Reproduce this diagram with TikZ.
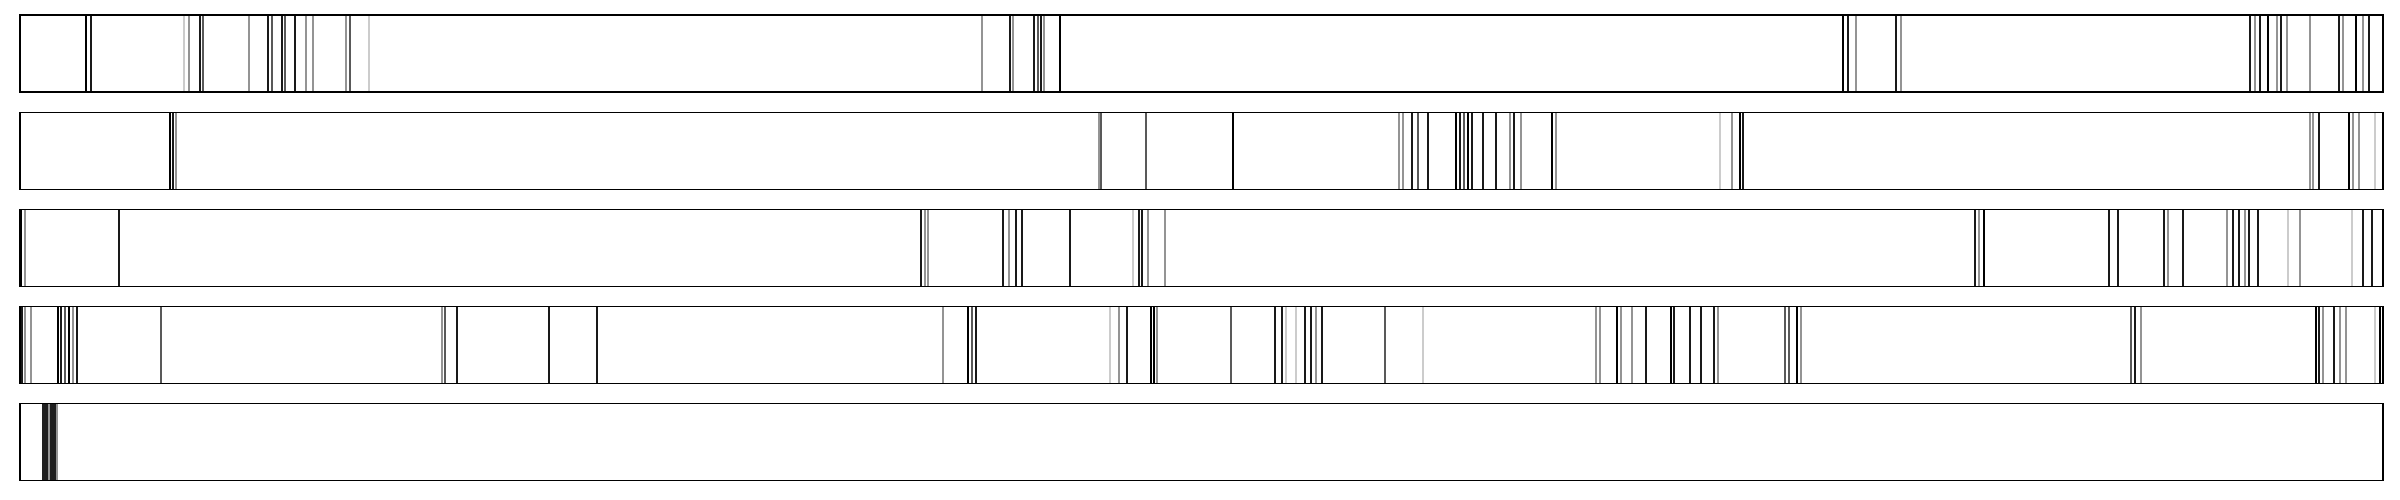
\documentclass[tikz,border=0pt]{standalone}
\begin{document}
\begin{tikzpicture}[x=1pt,y=-1pt,
  frame/.style={black,line width=1.5pt},
  bK/.style={black,line width=2.6pt},
  bk/.style={black!90,line width=1.3pt},
  bd/.style={black!65,line width=1.2pt},
  bg/.style={black!42,line width=1.1pt},
  bl/.style={black!20,line width=1.1pt},
  bW/.style={black!88,line width=6pt}]
\useasboundingbox (0,0) rectangle (2400,500);
\fill[white] (0,0) rectangle (2400,500);
\newcommand{\bcrow}[2]{%
  \foreach \x/\s in {#2} {\draw[\s] (\x,#1) -- (\x,{#1+77});}
  \draw[frame] (20,#1) rectangle (2383,{#1+77});
}
\bcrow{15}{86/bK,91/bk,184/bl,189/bg,200/bk,203/bd,249/bg,268/bk,272/bd,282/bk,285/bd,295/bk,306/bg,313/bg,346/bg,350/bd,369/bl,982/bg,1010/bk,1013/bg,1034/bk,1038/bd,1041/bk,1044/bg,1060/bK,1843/bK,1848/bk,1856/bg,1896/bk,1901/bg,2250/bk,2255/bg,2260/bk,2268/bK,2277/bg,2281/bk,2287/bg,2310/bg,2339/bk,2343/bg,2356/bK,2363/bg,2369/bk}
\bcrow{112.5}{170/bK,173/bk,176/bg,1099/bg,1101/bd,1146/bd,1233/bK,1399/bg,1403/bg,1412/bk,1418/bd,1428/bk,1456/bK,1460/bk,1464/bd,1468/bK,1472/bk,1483/bk,1496/bk,1510/bg,1514/bk,1521/bg,1552/bK,1556/bg,1720/bl,1732/bg,1740/bK,1743/bk,2310/bg,2313/bg,2319/bk,2349/bK,2353/bg,2359/bg,2375/bl}
\bcrow{209.5}{21/bK,25/bg,119/bk,921/bk,925/bg,928/bg,1003/bk,1009/bg,1016/bk,1022/bk,1070/bk,1133/bl,1139/bk,1142/bk,1148/bg,1165/bg,1975/bk,1979/bg,1984/bK,2109/bk,2118/bk,2164/bk,2168/bg,2183/bk,2227/bg,2233/bk,2239/bk,2245/bg,2249/bk,2258/bk,2288/bl,2300/bg,2352/bl,2363/bk,2372/bk}
\bcrow{306.5}{22/bk,25/bg,31/bg,58/bK,61/bk,65/bd,69/bK,73/bg,77/bk,161/bd,442/bg,445/bd,457/bk,549/bk,597/bk,943/bg,968/bK,972/bd,976/bk,1110/bl,1119/bg,1127/bk,1151/bK,1154/bK,1157/bg,1231/bd,1275/bk,1282/bk,1286/bl,1296/bl,1305/bk,1311/bk,1316/bg,1322/bk,1385/bd,1423/bl,1596/bg,1600/bg,1617/bK,1621/bg,1632/bg,1646/bk,1671/bK,1674/bk,1690/bk,1701/bk,1714/bk,1718/bg,1785/bd,1789/bd,1797/bK,1801/bg,2131/bd,2135/bk,2141/bg,2316/bK,2319/bk,2323/bg,2334/bk,2340/bg,2346/bg,2375/bl,2380/bK}
\bcrow{403.5}{45/bW,49/bg,53/bW,57/bg}
\end{tikzpicture}
\end{document}
